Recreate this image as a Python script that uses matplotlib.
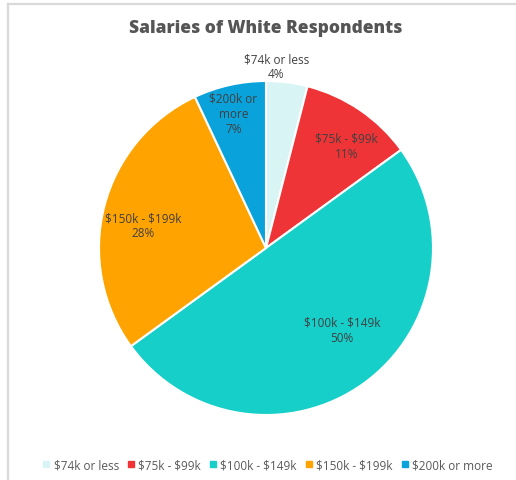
import matplotlib

matplotlib.use("Agg")

import matplotlib.pyplot as plt
import numpy as np
from matplotlib.lines import Line2D

matplotlib.rcParams["font.family"] = ["Open Sans", "DejaVu Sans"]
matplotlib.rcParams["text.parse_math"] = False

categories = ["$74k or less", "$75k - $99k", "$100k - $149k", "$150k - $199k", "$200k or more"]
shares = [4, 11, 50, 28, 7]
colors = ["#d9f4f4", "#ef3437", "#16cfc9", "#ffa301", "#0aa2db"]

# where each data label sits, as a fraction of the radius, plus a small angle nudge
label_dist = [1.09, 0.78, 0.67, 0.75, 0.83]
label_nudge = [4, -4, 7, 4, 1]

W, H = 516, 481
fig = plt.figure(figsize=(W / 100, H / 100), dpi=100)

# light frame on top and left
fig.add_artist(Line2D([8 / W, 1], [1 - 4.5 / H, 1 - 4.5 / H], color="#d9d9d9", lw=1.6))
fig.add_artist(Line2D([8 / W, 8 / W], [0, 1 - 4.5 / H], color="#d9d9d9", lw=1.6))

cx, cy, r = 266, 249, 167
ax = fig.add_axes([(cx - r) / W, (H - cy - r) / H, 2 * r / W, 2 * r / H])

wedges, _ = ax.pie(
    shares,
    colors=colors,
    startangle=90,
    counterclock=False,
    radius=1,
    wedgeprops=dict(edgecolor="white", linewidth=1.5),
)
ax.set_xlim(-1, 1)
ax.set_ylim(-1, 1)
ax.set_aspect("equal")
ax.axis("off")

for w, cat, val, d, n in zip(wedges, categories, shares, label_dist, label_nudge):
    mid = np.deg2rad((w.theta1 + w.theta2) / 2 + n)
    label = cat if cat != "$200k or more" else "$200k or\nmore"
    ax.text(
        d * np.cos(mid),
        d * np.sin(mid),
        f"{label}\n{val}%",
        ha="center",
        va="center",
        fontsize=8.5,
        color="#404040",
        linespacing=1.2,
        clip_on=False,
    )

fig.text(
    266 / W,
    1 - 29 / H,
    "Salaries of White Respondents",
    ha="center",
    va="center",
    fontsize=12.5,
    fontweight="heavy",
    color="#555555",
)

handles = [
    Line2D([], [], marker="s", linestyle="none", markersize=4.5, color=c) for c in colors
]
fig.legend(
    handles,
    categories,
    loc="center",
    bbox_to_anchor=(268 / W, 1 - 466 / H),
    ncol=5,
    frameon=False,
    fontsize=8.5,
    handlelength=0.6,
    handletextpad=0.3,
    columnspacing=0.75,
    labelcolor="#595959",
)

fig.savefig("out.png", dpi=100, facecolor="white")
